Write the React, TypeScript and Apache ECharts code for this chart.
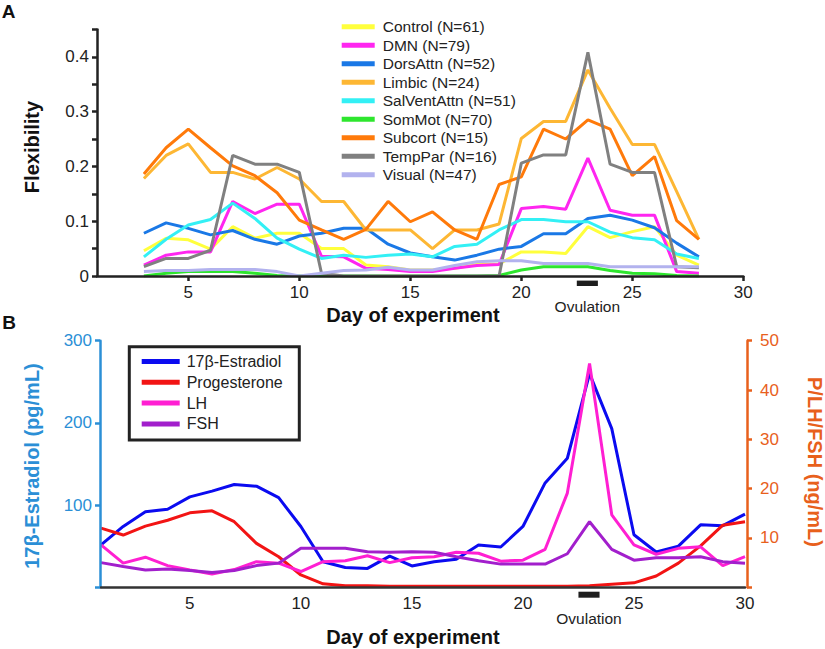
import React, { useEffect, useRef } from "react";
import * as echarts from "echarts";

// ---------- Panel A data (days 3..28) ----------
const flexDays = [3, 4, 5, 6, 7, 8, 9, 10, 11, 12, 13, 14, 15, 16, 17, 18, 19, 20, 21, 22, 23, 24, 25, 26, 27, 28];
const control = [0.046, 0.069, 0.066, 0.049, 0.09, 0.069, 0.078, 0.078, 0.05, 0.05, 0.02, 0.017, 0.011, 0.011, 0.014, 0.021, 0.022, 0.044, 0.044, 0.041, 0.09, 0.07, 0.081, 0.09, 0.038, 0.02];
const dmn = [0.02, 0.038, 0.044, 0.044, 0.136, 0.114, 0.131, 0.131, 0.036, 0.035, 0.014, 0.012, 0.008, 0.008, 0.014, 0.019, 0.021, 0.123, 0.127, 0.122, 0.215, 0.12, 0.111, 0.111, 0.008, 0.005];
const dorsAttn = [0.078, 0.097, 0.087, 0.075, 0.083, 0.067, 0.058, 0.073, 0.078, 0.087, 0.087, 0.058, 0.042, 0.035, 0.029, 0.038, 0.049, 0.054, 0.077, 0.077, 0.105, 0.111, 0.102, 0.088, 0.06, 0.035];
const limbic = [0.178, 0.22, 0.241, 0.189, 0.189, 0.177, 0.198, 0.177, 0.136, 0.136, 0.084, 0.084, 0.084, 0.05, 0.084, 0.084, 0.095, 0.251, 0.282, 0.282, 0.376, 0.306, 0.24, 0.24, 0.154, 0.067];
const salVentAttn = [0.035, 0.067, 0.093, 0.103, 0.133, 0.105, 0.069, 0.049, 0.032, 0.038, 0.034, 0.038, 0.04, 0.035, 0.054, 0.058, 0.084, 0.103, 0.103, 0.099, 0.099, 0.08, 0.07, 0.066, 0.04, 0.032];
const somMot = [0, 0.005, 0.008, 0.008, 0.008, 0.005, 0.001, 0, 0, 0, 0, 0, 0, 0, 0, 0, 0.001, 0.011, 0.017, 0.017, 0.017, 0.01, 0.005, 0.004, 0.001, 0];
const subcort = [0.186, 0.234, 0.268, 0.234, 0.201, 0.183, 0.152, 0.102, 0.084, 0.067, 0.085, 0.136, 0.099, 0.117, 0.084, 0.067, 0.167, 0.181, 0.268, 0.25, 0.285, 0.268, 0.183, 0.218, 0.101, 0.067];
const tempPar = [0.017, 0.032, 0.032, 0.047, 0.22, 0.204, 0.204, 0.189, 0.005, 0, 0, 0, 0, 0, 0, 0, 0, 0.206, 0.221, 0.221, 0.408, 0.204, 0.189, 0.189, 0.017, 0.015];
const visual = [0.008, 0.01, 0.01, 0.012, 0.012, 0.012, 0.008, 0, 0.005, 0.01, 0.011, 0.016, 0.011, 0.011, 0.019, 0.026, 0.028, 0.028, 0.023, 0.023, 0.023, 0.017, 0.017, 0.017, 0.017, 0.017];

const networkNames = ["Control (N=61)", "DMN (N=79)", "DorsAttn (N=52)", "Limbic (N=24)", "SalVentAttn (N=51)", "SomMot (N=70)", "Subcort (N=15)", "TempPar (N=16)", "Visual (N=47)"];
const networkColors = ["#ffff3c", "#ff26f0", "#1a78e6", "#fdb734", "#33f0f5", "#2ee62e", "#ff7a0a", "#808080", "#b2b2ee"];
const networkValues = [control, dmn, dorsAttn, limbic, salVentAttn, somMot, subcort, tempPar, visual];

// ---------- Panel B data (days 1..30) ----------
const hormoneDays = [1, 2, 3, 4, 5, 6, 7, 8, 9, 10, 11, 12, 13, 14, 15, 16, 17, 18, 19, 20, 21, 22, 23, 24, 25, 26, 27, 28, 29, 30];
const estradiol = [51.5, 74, 92, 95, 110, 117, 125, 123, 109, 74, 31, 24, 23, 38, 26, 31, 34, 51.5, 49, 74, 127, 157, 260, 193, 64, 43, 50, 76, 75, 89];
const progesterone = [12, 10.6, 12.4, 13.6, 15.1, 15.5, 13.3, 8.9, 6.2, 2.5, 0.7, 0.3, 0.3, 0.2, 0.2, 0.2, 0.2, 0.2, 0.2, 0.2, 0.2, 0.2, 0.3, 0.6, 0.9, 2.3, 4.9, 8.4, 12.6, 13.3];
const lh = [8.6, 4.9, 6.1, 4.4, 3.5, 2.7, 3.6, 5.2, 4.9, 3.2, 5.2, 5.4, 6.4, 5.0, 6.0, 6.2, 7.1, 6.9, 5.3, 5.5, 7.7, 19.1, 45.4, 14.7, 8.6, 6.7, 7.9, 8.2, 4.4, 6.2];
const fsh = [5.0, 4.2, 3.5, 3.7, 3.4, 3.0, 3.4, 4.4, 4.9, 7.9, 7.9, 7.9, 7.2, 7.1, 7.2, 7.1, 6.2, 5.4, 4.7, 4.7, 4.7, 6.8, 13.3, 7.7, 5.5, 6.0, 6.0, 6.2, 5.2, 4.9];

const hormoneNames = ["17β-Estradiol", "Progesterone", "LH", "FSH"];
const hormoneColors = ["#0b0bf0", "#f21414", "#ff1fd2", "#a21fcc"];
const hormoneValues = [estradiol, progesterone, lh, fsh];
const hormoneAxis = [0, 1, 1, 1];

const dayTicks = [5, 10, 15, 20, 25, 30];
const ovulationStart = 22.5;
const ovulationEnd = 23.45;

const FONT = "'Liberation Sans', Arial, Helvetica, sans-serif";
const DARK = "#222222";
const BLUE_AXIS = "#2b8fd6";
const ORANGE_AXIS = "#e8601c";

export default function App() {
  const ref = useRef<HTMLDivElement>(null);

  useEffect(() => {
    if (!ref.current) return;
    const chart = echarts.init(ref.current, null, { renderer: "svg" });

    const series: any[] = [];
    networkNames.forEach((name, i) => {
      series.push({
        name,
        type: "line",
        xAxisIndex: 0,
        yAxisIndex: 0,
        data: flexDays.map((d, k) => [d, networkValues[i][k]]),
        showSymbol: false,
        symbol: "none",
        color: networkColors[i],
        lineStyle: { color: networkColors[i], width: 3 },
        z: 2 + i,
      });
    });
    hormoneNames.forEach((name, i) => {
      series.push({
        name,
        type: "line",
        xAxisIndex: 1,
        yAxisIndex: 1 + hormoneAxis[i],
        data: hormoneDays.map((d, k) => [d, hormoneValues[i][k]]),
        showSymbol: false,
        symbol: "none",
        color: hormoneColors[i],
        lineStyle: { color: hormoneColors[i], width: 3 },
        z: 2 + i,
      });
    });

    const option: any = {
      animation: false,
      backgroundColor: "#ffffff",
      textStyle: { fontFamily: FONT },
      grid: [
        { left: 97, right: 825 - 743.3, top: 29.4, bottom: 649 - 276 },
        { left: 101, right: 825 - 745, top: 340.7, bottom: 649 - 587.3 },
      ],
      xAxis: [
        {
          type: "value",
          gridIndex: 0,
          min: 0.887,
          max: 30,
          z: 20,
          splitLine: { show: false },
          axisLine: { lineStyle: { color: DARK, width: 2.5 } },
          axisTick: { customValues: dayTicks, length: 5, lineStyle: { color: DARK, width: 2.5 } },
          axisLabel: { customValues: dayTicks, color: DARK, fontSize: 17, margin: 8, fontFamily: FONT },
        },
        {
          type: "value",
          gridIndex: 1,
          min: 1,
          max: 30,
          z: 20,
          splitLine: { show: false },
          axisLine: { lineStyle: { color: "#333333", width: 2.5 } },
          axisTick: { show: false },
          axisLabel: { customValues: dayTicks, color: DARK, fontSize: 17, margin: 8, fontFamily: FONT },
        },
      ],
      yAxis: [
        {
          type: "value",
          gridIndex: 0,
          min: 0,
          max: 0.45,
          interval: 0.05,
          z: 20,
          splitLine: { show: false },
          axisLine: { show: true, lineStyle: { color: DARK, width: 2.5 } },
          axisTick: { show: true, length: 5, lineStyle: { color: DARK, width: 2.5 } },
          axisLabel: {
            color: DARK,
            fontSize: 17,
            margin: 8,
            fontFamily: FONT,
            formatter: (v: number) => {
              const t = Math.round(v * 100);
              if (t % 10 !== 0) return "";
              return t === 0 ? "0" : (t / 100).toFixed(1);
            },
          },
        },
        {
          type: "value",
          gridIndex: 1,
          min: 0,
          max: 300,
          interval: 100,
          offset: 1,
          z: 20,
          splitLine: { show: false },
          axisLine: { show: true, lineStyle: { color: BLUE_AXIS, width: 2.5 } },
          axisTick: { show: true, length: 5, lineStyle: { color: BLUE_AXIS, width: 2.5 } },
          axisLabel: {
            color: BLUE_AXIS,
            fontSize: 17,
            margin: 8,
            fontFamily: FONT,
            formatter: (v: number) => (v === 0 ? "" : String(v)),
          },
        },
        {
          type: "value",
          gridIndex: 1,
          position: "right",
          min: 0,
          max: 50,
          interval: 10,
          offset: 2,
          z: 20,
          splitLine: { show: false },
          axisLine: { show: true, lineStyle: { color: ORANGE_AXIS, width: 2.5 } },
          axisTick: { show: true, length: 5, lineStyle: { color: ORANGE_AXIS, width: 2.5 } },
          axisLabel: {
            color: ORANGE_AXIS,
            fontSize: 17,
            margin: 13,
            fontFamily: FONT,
            formatter: (v: number) => (v === 0 ? "" : String(v)),
          },
        },
      ],
      legend: [
        {
          data: networkNames,
          orient: "vertical",
          left: 341.7,
          top: 18.8,
          padding: 0,
          icon: "rect",
          itemWidth: 33,
          itemHeight: 5,
          itemGap: 2.5,
          selectedMode: false,
          textStyle: { fontSize: 15.5, lineHeight: 14, color: DARK, fontFamily: FONT, padding: [0, 0, 0, 3] },
        },
        {
          data: hormoneNames,
          orient: "vertical",
          left: 141.7,
          top: 353.5,
          padding: 0,
          icon: "rect",
          itemWidth: 38,
          itemHeight: 5,
          itemGap: 4.8,
          selectedMode: false,
          textStyle: { fontSize: 16, lineHeight: 15, color: DARK, fontFamily: FONT, padding: [0, 0, 0, 2] },
        },
      ],
      series,
    };

    chart.setOption(option);

    const xa1 = chart.convertToPixel({ xAxisIndex: 0 }, ovulationStart) as number;
    const xa2 = chart.convertToPixel({ xAxisIndex: 0 }, ovulationEnd) as number;
    const xb1 = chart.convertToPixel({ xAxisIndex: 1 }, ovulationStart) as number;
    const xb2 = chart.convertToPixel({ xAxisIndex: 1 }, ovulationEnd) as number;
    const yA0 = chart.convertToPixel({ yAxisIndex: 0 }, 0) as number;
    const yB0 = chart.convertToPixel({ yAxisIndex: 1 }, 0) as number;

    const boldTitle = (text: string, x: number, y: number, color: string, rotation = 0) => ({
      type: "text",
      x,
      y,
      rotation,
      style: {
        text,
        fill: color,
        font: `bold 20px ${FONT}`,
        align: "center",
        verticalAlign: "middle",
      },
    });

    chart.setOption({
      graphic: [
        { type: "text", x: 8.5, y: 11, style: { text: "A", fill: "#111", font: `bold 19px ${FONT}`, align: "center", verticalAlign: "middle" } },
        { type: "text", x: 9, y: 322.7, style: { text: "B", fill: "#111", font: `bold 19px ${FONT}`, align: "center", verticalAlign: "middle" } },
        boldTitle("Flexibility", 32, 147, "#111", Math.PI / 2),
        boldTitle("Day of experiment", 413, 315, "#111"),
        boldTitle("Day of experiment", 413, 637, "#111"),
        boldTitle("17β-Estradiol (pg/mL)", 32, 466, BLUE_AXIS, Math.PI / 2),
        boldTitle("P/LH/FSH (ng/mL)", 815, 462, ORANGE_AXIS, -Math.PI / 2),
        { type: "rect", shape: { x: xa1, y: yA0 + 4.6, width: xa2 - xa1, height: 5.4 }, style: { fill: "#1e1e1e" } },
        { type: "rect", shape: { x: xb1, y: yB0 + 4.4, width: xb2 - xb1, height: 6 }, style: { fill: "#1e1e1e" } },
        { type: "text", x: (xa1 + xa2) / 2, y: 306.7, style: { text: "Ovulation", fill: DARK, font: `15.5px ${FONT}`, align: "center", verticalAlign: "middle" } },
        { type: "text", x: (xb1 + xb2) / 2, y: 618, style: { text: "Ovulation", fill: DARK, font: `15.5px ${FONT}`, align: "center", verticalAlign: "middle" } },
        { type: "rect", shape: { x: 129.3, y: 346.7, width: 170, height: 93.3 }, style: { fill: "none", stroke: "#222", lineWidth: 3 } },
      ],
    });

    return () => chart.dispose();
  }, []);

  return (
    <div
      ref={ref}
      style={{ position: "fixed", left: 0, top: 0, width: 825, height: 649, background: "#fff" }}
    />
  );
}
